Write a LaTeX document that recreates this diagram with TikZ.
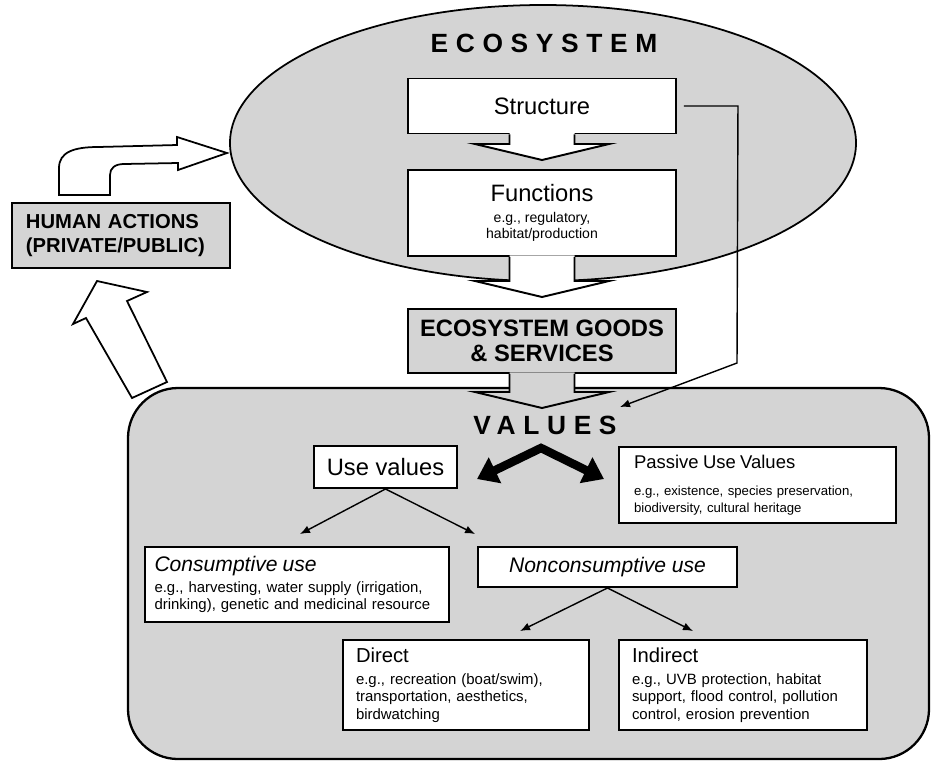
\documentclass[tikz,border=0pt]{standalone}
\usepackage{fontspec}
\setmainfont{Liberation Sans}
\usetikzlibrary{shapes.geometric,arrows.meta,calc}

% hollow block arrow hanging below a box: source node, tip, fill
\newcommand{\blockarrow}[3]{%
  \fill[#3] ($(#1.south)+(-32.5,-1.5)$) -- ($(#2)+(-32.5,-16)$) -- ($(#2)+(-67,-16)$) -- (#2)
    -- ($(#2)+(67,-16)$) -- ($(#2)+(32.5,-16)$) -- ($(#1.south)+(32.5,-1.5)$) -- cycle;
  \draw[line width=1.1pt, line join=miter] ($(#1.south)+(-32.5,0)$) -- ($(#2)+(-32.5,-16)$) -- ($(#2)+(-67,-16)$) -- (#2)
    -- ($(#2)+(67,-16)$) -- ($(#2)+(32.5,-16)$) -- ($(#1.south)+(32.5,0)$);
}

\begin{document}
\begin{tikzpicture}[x=0.2mm, y=-0.2mm,
  box/.style={draw, line width=1.1pt, fill=white, inner sep=0pt, align=center},
  grey/.style={fill=black!17},
  textbox/.style={box, align=left, inner ysep=0pt, font=\fontsize{8.5}{10}\selectfont},
  conn/.style={line width=0.8pt, -{Latex[length=2mm,width=1.6mm]}},
  hollow/.style={draw, line width=1pt, fill=white, line join=miter},
  bigtitle/.style={font=\fontsize{15}{17}\selectfont\bfseries\addfontfeature{LetterSpace=29}}]
\useasboundingbox (0,0) rectangle (931,761);

% containers
\node[draw, line width=1.3pt, grey, rounded corners=10mm, minimum width=160.2mm, minimum height=74.2mm] (valbox) at (528.5,573.5) {};
\node[ellipse, draw, line width=1pt, grey, inner sep=0pt, minimum width=125.2mm, minimum height=55.2mm] (eco) at (543,143) {};
\node[bigtitle] (ecolabel) at (544,43) {ECOSYSTEM};

% ecosystem chain
\node[box, minimum width=53.6mm, minimum height=11mm, font=\fontsize{13.5}{15}\selectfont] (structure) at (542,106) {Structure};
\node[box, minimum width=53.6mm, minimum height=17.2mm, font=\fontsize{8}{9}\selectfont] (functions) at (542,213)
  {{\fontsize{13.5}{15}\selectfont Functions}\\[3pt] e.g., regulatory,\\ habitat/production};
\node[box, grey, minimum width=53.6mm, minimum height=12.8mm, font=\fontsize{13.5}{14.2}\selectfont\bfseries] (goods) at (542,341)
  {ECOSYSTEM GOODS\\ \& SERVICES};

\coordinate (tip1) at (542,160);
\coordinate (tip2) at (542,297);
\coordinate (tip3) at (542,408);
\blockarrow{structure}{tip1}{white}
\blockarrow{functions}{tip2}{white}
\blockarrow{goods}{tip3}{black!17}

% structure feeds values directly
\coordinate (bend) at (737,363);
\coordinate (valin) at (620,407);
\draw[conn] ($(structure.east)+(7,0)$) -- ($(structure.east)+(61,0)$) -- (bend) -- (valin);

% values
\node[bigtitle] (values) at (545,425.5) {VALUES};
\node[box, minimum width=28.6mm, minimum height=8.4mm, font=\fontsize{13.5}{15}\selectfont] (usevals) at (385.5,467) {Use values};
\node[textbox, text width=49.4mm, inner xsep=3mm, minimum height=15.2mm, font=\fontsize{7.5}{9.6}\selectfont] (passive) at (757.5,485)
  {{\fontsize{10.5}{12}\selectfont Passive Use Values}\\[6pt] e.g., existence, species preservation,\\ biodiversity, cultural heritage};

\coordinate (apex) at (541,448);
\coordinate (uvtip) at (477,479);
\coordinate (pvtip) at (604,479);
\draw[line width=1.7mm, line join=miter, {Triangle[length=4mm,width=5.5mm]}-{Triangle[length=4mm,width=5.5mm]}] (uvtip) -- (apex) -- (pvtip);

\node[textbox, text width=57mm, inner xsep=1.9mm, minimum height=15mm] (consume) at (297,584.5)
  {{\fontsize{12}{13}\selectfont\itshape Consumptive use}\\[2pt] e.g., harvesting, water supply (irrigation,\\ drinking), genetic and medicinal resource};
\node[box, minimum width=51.8mm, minimum height=8mm, font=\fontsize{12}{13}\selectfont\itshape] (noncons) at (607.5,567) {Nonconsumptive use};
\node[textbox, text width=44mm, inner xsep=2.6mm, minimum height=18mm] (direct) at (466,685)
  {{\fontsize{11.5}{13}\selectfont Direct}\\[2.5pt] e.g., recreation (boat/swim),\\ transportation, aesthetics,\\ birdwatching};
\node[textbox, text width=44.4mm, inner xsep=2.6mm, minimum height=18mm] (indirect) at (743,685)
  {{\fontsize{11.5}{13}\selectfont Indirect}\\[2.5pt] e.g., UVB protection, habitat\\ support, flood control, pollution\\ control, erosion prevention};

\draw[conn] (usevals.south) -- ($(consume.north)+(3,-12)$);
\draw[conn] (usevals.south) -- ($(noncons.north west)+(-2,-12)$);
\draw[conn] (noncons.south) -- ($(direct.north)+(54,-8)$);
\draw[conn] (noncons.south) -- ($(indirect.north)+(-50,-8)$);

% human actions loop
\node[box, grey, minimum width=43.6mm, minimum height=13mm, text width=38mm, inner xsep=2.8mm, align=left,
  font=\fontsize{11.5}{13.6}\selectfont\bfseries] (human) at (121,235.5) {HUMAN ACTIONS\\(PRIVATE/PUBLIC)};
\draw[hollow] (59,195) -- (59,168) .. controls (59,152) and (74,147) .. (98,147) -- (177,145) -- (177,137) -- (227,153)
  -- (178,170) -- (178,163) -- (124,164) .. controls (115,164) and (110,168) .. (110,175) -- (110,195) -- cycle;
\draw[hollow] (132,398) -- (86,318) -- (73,324) -- (97,281) -- (147,292) -- (127,301) -- (167,382) -- cycle;
\end{tikzpicture}
\end{document}
